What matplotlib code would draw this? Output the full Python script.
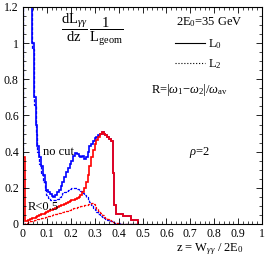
import numpy as np
import matplotlib
matplotlib.use('Agg')
import matplotlib.pyplot as plt
from matplotlib.ticker import MultipleLocator, FuncFormatter

plt.rcParams['font.family'] = 'Liberation Serif'
plt.rcParams['mathtext.fontset'] = 'custom'
plt.rcParams['mathtext.rm'] = 'Liberation Serif'
plt.rcParams['mathtext.it'] = 'Liberation Serif:italic'

# bin edges (width 0.0075)
edges = np.round(np.arange(0, 65) * 0.0075, 5)

# L0, no cut
l0_nocut = [6.0, 4.0, 2.5, 1.8, 1.4, 1.0, 0.70, 0.55, 0.43, 0.37,
            0.32, 0.27, 0.23, 0.19, 0.175, 0.165, 0.155, 0.15, 0.16, 0.175,
            0.19, 0.21, 0.235, 0.26, 0.285, 0.31, 0.33, 0.35, 0.375, 0.39,
            0.385, 0.375, 0.37, 0.375, 0.36, 0.37, 0.40, 0.43, 0.44, 0.46,
            0.475, 0.48, 0.49, 0.50, 0.51, 0.50, 0.49, 0.48, 0.47, 0.46,
            0.28, 0.105, 0.055, 0.055, 0.055, 0.055, 0.045, 0.045, 0.045, 0.045,
            0.02, 0.02, 0.02, 0.02]

# L0, R<0.5
l0_cut = [0.37, 0.015, 0.018, 0.022, 0.026, 0.031, 0.035, 0.04, 0.044, 0.049,
          0.053, 0.058, 0.062, 0.067, 0.071, 0.076, 0.08, 0.085, 0.089, 0.094,
          0.098, 0.103, 0.107, 0.112, 0.116, 0.121, 0.125, 0.13, 0.134, 0.139,
          0.143, 0.15, 0.16, 0.175, 0.20, 0.23, 0.27, 0.32, 0.37, 0.41,
          0.445, 0.465, 0.48, 0.495, 0.51, 0.50, 0.49, 0.48, 0.47, 0.46,
          0.28, 0.105, 0.055, 0.055, 0.055, 0.055, 0.045, 0.045, 0.045, 0.045,
          0.02, 0.02, 0.02, 0.02]

# L2, no cut
l2_nocut = [6.0, 4.0, 2.5, 1.8, 1.3, 0.97, 0.66, 0.50, 0.40, 0.33,
            0.28, 0.23, 0.19, 0.16, 0.145, 0.135, 0.13, 0.13, 0.135, 0.14,
            0.15, 0.16, 0.17, 0.178, 0.185, 0.19, 0.195, 0.198, 0.20, 0.198,
            0.195, 0.19, 0.182, 0.172, 0.16, 0.148, 0.135, 0.12, 0.105, 0.09,
            0.078, 0.066, 0.056, 0.047, 0.04, 0.034, 0.028, 0.023, 0.018, 0.014,
            0.01, 0.007, 0.005, 0.003, 0.002, 0, 0, 0, 0, 0,
            0, 0, 0, 0]

# L2, R<0.5
l2_cut = [0.002, 0.005, 0.008, 0.011, 0.014, 0.017, 0.02, 0.023, 0.026, 0.029,
          0.032, 0.035, 0.038, 0.041, 0.044, 0.047, 0.05, 0.053, 0.056, 0.059,
          0.062, 0.065, 0.068, 0.071, 0.074, 0.077, 0.08, 0.083, 0.086, 0.089,
          0.092, 0.095, 0.098, 0.101, 0.104, 0.107, 0.11, 0.113, 0.115, 0.108,
          0.095, 0.083, 0.07, 0.06, 0.05, 0.041, 0.033, 0.026, 0.02, 0.015,
          0.01, 0.006, 0.003, 0.001, 0, 0, 0, 0, 0, 0,
          0, 0, 0, 0]

fig = plt.figure(figsize=(2.68, 2.62), dpi=100)
ax = fig.add_axes([23/268, 38/262, 239/268, 217/262])

dash = (0, (2.5, 1.2))
ax.stairs(l2_nocut, edges, color='blue', lw=0.9, ls=dash)
ax.stairs(l2_cut, edges, color='red', lw=0.9, ls=dash)
ax.stairs(l0_nocut, edges, color='blue', lw=1.2)
ax.stairs(l0_cut, edges, color='red', lw=1.2)

ax.set_xlim(0, 1)
ax.set_ylim(0, 1.2)
ax.xaxis.set_major_locator(MultipleLocator(0.1))
ax.xaxis.set_minor_locator(MultipleLocator(0.02))
ax.yaxis.set_major_locator(MultipleLocator(0.2))
ax.yaxis.set_minor_locator(MultipleLocator(0.05))
fmt = FuncFormatter(lambda v, p: '%g' % round(v, 2))
ax.xaxis.set_major_formatter(fmt)
ax.yaxis.set_major_formatter(fmt)
ax.tick_params(which='both', direction='in', top=True, right=True, labelsize=8.5, pad=3)
ax.tick_params(which='major', length=4, width=0.6)
ax.tick_params(which='minor', length=2, width=0.5)
for s in ax.spines.values():
    s.set_linewidth(0.8)

ax.text(0.29, 0.895, r'$\dfrac{\mathrm{dL}_{\gamma\gamma}}{\mathrm{dz}}\,\dfrac{1}{\mathrm{L}_{\mathrm{geom}}}$',
        transform=ax.transAxes, ha='center', va='center', fontsize=10.5)
ax.text(0.78, 0.93, r'2E$_0$=35 GeV', transform=ax.transAxes, ha='center', va='center', fontsize=9)
ax.plot([0.636, 0.762], [0.834, 0.834], color='black', lw=0.8, transform=ax.transAxes)
ax.text(0.775, 0.83, r'L$_0$', transform=ax.transAxes, ha='left', va='center', fontsize=9)
ax.plot([0.636, 0.762], [0.742, 0.742], color='black', lw=0.8, ls=':', transform=ax.transAxes)
ax.text(0.775, 0.738, r'L$_2$', transform=ax.transAxes, ha='left', va='center', fontsize=9)
ax.text(0.695, 0.617, r'R=|$\omega_1$$-$$\omega_2$|/$\omega_{\mathrm{av}}$', transform=ax.transAxes,
        ha='center', va='center', fontsize=9)
ax.text(0.74, 0.33, r'$\rho$=2', transform=ax.transAxes, ha='center', va='center', fontsize=9)
ax.text(0.15, 0.33, 'no cut', transform=ax.transAxes, ha='center', va='center', fontsize=9)
ax.text(0.085, 0.08, 'R<0.5', transform=ax.transAxes, ha='center', va='center', fontsize=9)
ax.text(0.78, -0.078, r'z = W$_{\gamma\gamma}$ / 2E$_0$', transform=ax.transAxes,
        ha='center', va='top', fontsize=9)

fig.savefig('out.png', dpi=100)
